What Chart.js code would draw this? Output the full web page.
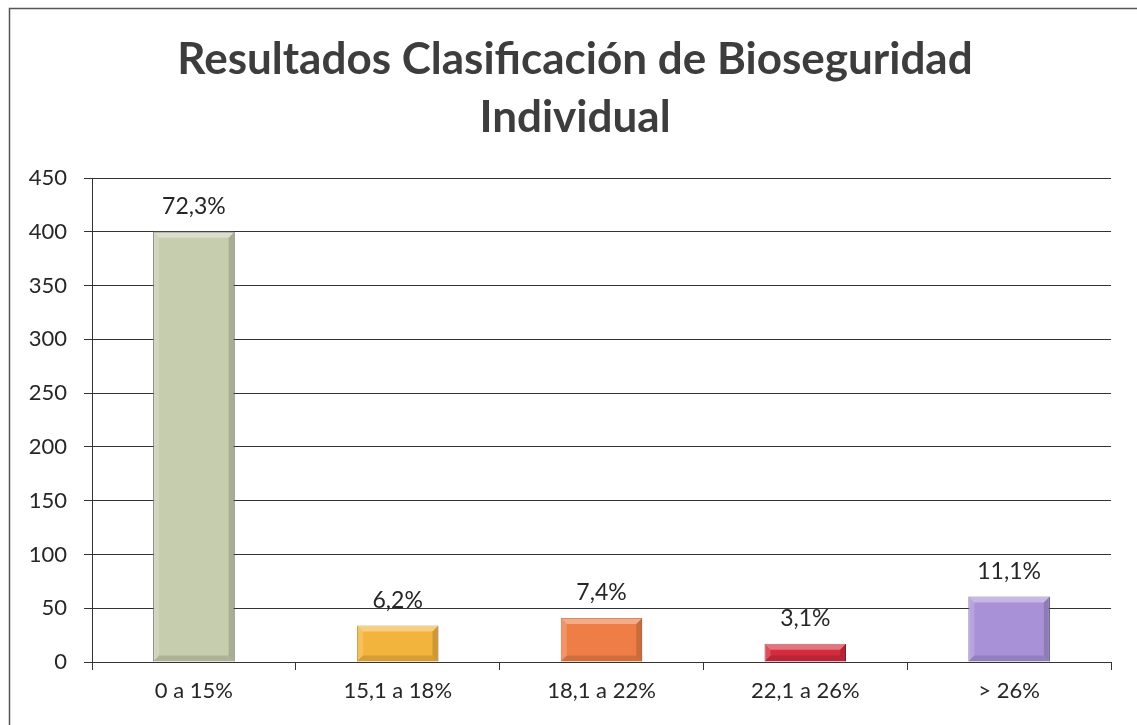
<!DOCTYPE html>
<html>
<head>
<meta charset="utf-8">
<script src="https://cdn.jsdelivr.net/npm/chart.js@4/dist/chart.umd.min.js"></script>
<style>
  html, body { margin: 0; padding: 0; background: #ffffff; }
  #wrap { position: relative; width: 1137px; height: 725px; }
</style>
</head>
<body>
<div id="wrap"><canvas id="c" width="1137" height="725"></canvas></div>
<script>
const titleLines = ["Resultados Clasificación de Bioseguridad", "Individual"];
const categories = ["0 a 15%", "15,1 a 18%", "18,1 a 22%", "22,1 a 26%", "> 26%"];
const counts = [400, 34, 41, 17, 61];
const percentLabels = ["72,3%", "6,2%", "7,4%", "3,1%", "11,1%"];
const barColors = ["#c6ccae", "#f3b43d", "#ee7e46", "#d42b3d", "#a891d6"];
const barEdges = ["#55594a", "#b9801a", "#b0501f", "#8c1424", "#5d4b8c"];
const yMin = 0, yMax = 450, yStep = 50;

const FONT = "Lato, 'Open Sans', 'DejaVu Sans', sans-serif";

const framePlugin = {
  id: 'frame',
  beforeDraw(chart) {
    const ctx = chart.ctx;
    ctx.save();
    ctx.strokeStyle = '#555';
    ctx.lineWidth = 1.5;
    ctx.beginPath();
    ctx.moveTo(9.5, 725);
    ctx.lineTo(9.5, 8.5);
    ctx.lineTo(1137, 8.5);
    ctx.stroke();
    ctx.restore();
  }
};

const titlePlugin = {
  id: 'twoLineTitle',
  afterDraw(chart) {
    const ctx = chart.ctx;
    ctx.save();
    ctx.font = "bold 44px " + FONT;
    ctx.fillStyle = '#3d3d3d';
    ctx.textAlign = 'center';
    ctx.textBaseline = 'alphabetic';
    ctx.fillText(titleLines[0], 575, 74);
    ctx.fillText(titleLines[1], 575, 132);
    ctx.restore();
  }
};

const bevelPlugin = {
  id: 'bevel',
  afterDatasetsDraw(chart) {
    const ctx = chart.ctx;
    const meta = chart.getDatasetMeta(0);
    ctx.save();
    meta.data.forEach((bar) => {
      const p = bar.getProps(['x', 'y', 'base', 'width'], true);
      const l = p.x - p.width / 2, r = p.x + p.width / 2, t = p.y, b = p.base;
      const s = Math.min(6, (b - t) / 3);
      ctx.fillStyle = 'rgba(255,255,255,0.35)';
      ctx.beginPath();
      ctx.moveTo(l, t); ctx.lineTo(r, t); ctx.lineTo(r - s, t + s); ctx.lineTo(l + s, t + s); ctx.closePath();
      ctx.fill();
      ctx.fillStyle = 'rgba(255,255,255,0.18)';
      ctx.beginPath();
      ctx.moveTo(l, t); ctx.lineTo(l + s, t + s); ctx.lineTo(l + s, b - s); ctx.lineTo(l, b); ctx.closePath();
      ctx.fill();
      ctx.fillStyle = 'rgba(0,0,0,0.15)';
      ctx.beginPath();
      ctx.moveTo(r, t); ctx.lineTo(r, b); ctx.lineTo(r - s, b - s); ctx.lineTo(r - s, t + s); ctx.closePath();
      ctx.fill();
      ctx.fillStyle = 'rgba(0,0,0,0.12)';
      ctx.beginPath();
      ctx.moveTo(l, b); ctx.lineTo(r, b); ctx.lineTo(r - s, b - s); ctx.lineTo(l + s, b - s); ctx.closePath();
      ctx.fill();
    });
    ctx.restore();
  }
};

const valueLabelPlugin = {
  id: 'valueLabels',
  afterDatasetsDraw(chart) {
    const ctx = chart.ctx;
    const meta = chart.getDatasetMeta(0);
    ctx.save();
    ctx.font = "23px " + FONT;
    ctx.fillStyle = '#262626';
    ctx.textAlign = 'center';
    ctx.textBaseline = 'middle';
    meta.data.forEach((bar, i) => {
      ctx.fillText(percentLabels[i], bar.x, bar.y - 25);
    });
    ctx.restore();
  }
};

new Chart(document.getElementById('c'), {
  type: 'bar',
  data: {
    labels: categories,
    datasets: [{
      data: counts,
      backgroundColor: barColors,
      borderColor: barEdges,
      borderWidth: 1,
      barPercentage: 0.8,
      categoryPercentage: 0.5
    }]
  },
  options: {
    responsive: false,
    animation: false,
    devicePixelRatio: 1,
    layout: { padding: { top: 178, right: 26, bottom: 0, left: 0 } },
    plugins: {
      legend: { display: false },
      tooltip: { enabled: false },
      title: { display: false }
    },
    scales: {
      x: {
        offset: true,
        grid: { display: true, drawOnChartArea: false, drawTicks: true, tickLength: 8, color: '#333', offset: true },
        border: { display: true, color: '#333', width: 1 },
        ticks: { color: '#262626', font: { family: FONT, size: 22 }, padding: 8 },
        afterFit(scale) { scale.height = 63; }
      },
      y: {
        min: yMin, max: yMax,
        grid: { color: '#333', lineWidth: 1, tickLength: 8, drawTicks: true },
        border: { display: true, color: '#333', width: 1 },
        ticks: { stepSize: yStep, color: '#262626', font: { family: FONT, size: 22 }, padding: 17 },
        afterFit(scale) { scale.width = 92; }
      }
    }
  },
  plugins: [framePlugin, bevelPlugin, valueLabelPlugin, titlePlugin]
});
</script>
</body>
</html>
